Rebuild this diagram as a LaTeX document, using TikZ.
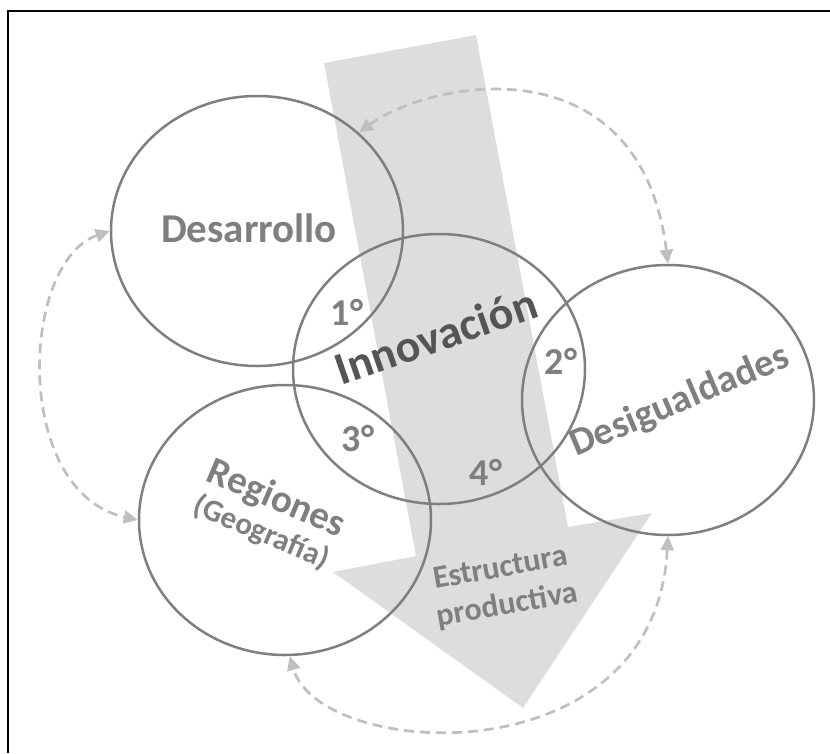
\documentclass[tikz,border=0pt]{standalone}
\usepackage{fontspec}
\setmainfont{Carlito}
\usepackage{tikz}
\usetikzlibrary{shapes.geometric}
\usetikzlibrary{arrows.meta}

\definecolor{circlegray}{HTML}{7F7F7F}
\definecolor{textgray}{HTML}{7F7F7F}
\definecolor{innogray}{HTML}{555555}
\definecolor{arrowgray}{HTML}{DDDDDD}
\definecolor{linkgray}{HTML}{BFBFBF}

\begin{document}
\begin{tikzpicture}[x=1pt, y=-1pt,
    ring/.style={ellipse, draw=circlegray, line width=2.5pt, minimum width=292pt, minimum height=270pt, inner sep=0pt},
    words/.style={text=textgray, font=\bfseries\fontsize{#1}{#1}\selectfont, inner sep=0pt, anchor=base},
    ordinal/.style={text=textgray, font=\bfseries\fontsize{38}{38}\selectfont, inner sep=0pt},
    connector/.style={draw=linkgray, line width=2.7pt, dash pattern=on 10pt off 6pt, <->, >={Triangle[length=14pt,width=13pt]}}]

    \useasboundingbox (0,0) rectangle (830,753);

    % frame
    \draw[line width=1.6pt] (8,753) -- (8,11) -- (830,11);

    % big arrow
    \fill[arrowgray] (324,63) -- (476,35) -- (568,527) -- (652,513) -- (523,708) -- (333,572) -- (416,556) -- cycle;

    % circles
    \node[ring] (des) at (257,231) {};
    \node[ring] (inn) at (439,369) {};
    \node[ring] (desig) at (668,400) {};
    \node[ring] (reg) at (285,520) {};

    % labels
    \node[words=41] (desarrollo) at (249,242) {Desarrollo};
    \node[words=46, text=innogray, rotate=19] (innovacion) at (441,351) {Innovación};
    \node[words=39, rotate=23] (desigualdades) at (684,411) {Desigualdades};
    \node[words=39, rotate=-23] (regiones) at (272,509) {Regiones};
    \node[words=31, rotate=-23] (geografia) at (258,541) {(Geografía)};
    \node[words=32, rotate=10] (estructura) at (502,577) {Estructura};
    \node[words=32, rotate=10] (productiva) at (509,614) {productiva};

    % order of the overlaps
    \foreach \x/\y/\k in {347/312/1, 561/361/2, 358/438/3, 486/472/4}
        \node[ordinal] (ord\k) at (\x,\y) {\k°};

    % dashed links
    \draw[connector] (des.44) .. controls (430,80) and (640,40) .. (desig.north);
    \draw[connector] (des.west) .. controls (20,262) and (12,492) .. (reg.west);
    \draw[connector] (desig.south) .. controls (655,780) and (320,760) .. (reg.-88);
\end{tikzpicture}
\end{document}
